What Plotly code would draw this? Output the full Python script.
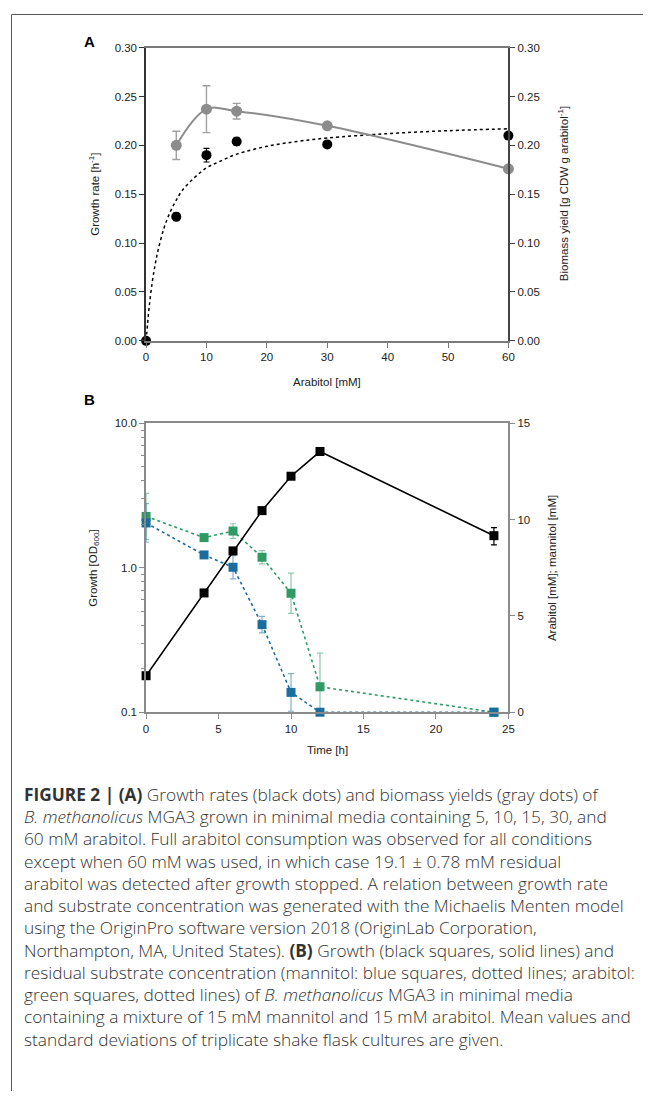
import plotly.graph_objects as go

# The page body has an 8px margin on every side, so the figure is drawn from (8, 8)
# and sized so that the whole page stays 657 x 1105.
OX, OY = 8, 8
W, H = 657 - 2 * OX, 1105 - 2 * OY

# ---------------- Panel A data ----------------
arab_conc = [0, 5, 10, 15, 30, 60]
growth_rate = [0.0, 0.127, 0.190, 0.204, 0.201, 0.210]
growth_rate_err = [0.0, 0.004, 0.007, 0.004, 0.0, 0.0]

yield_conc = [5, 10, 15, 30, 60]
biomass_yield = [0.200, 0.237, 0.235, 0.220, 0.176]
biomass_yield_err = [0.0145, 0.024, 0.008, 0.002, 0.0]

# Michaelis-Menten fit curve
mm_x = [0, 0.25, 0.5, 1, 1.5, 2, 3, 4, 5, 6, 8, 10, 12, 15, 20, 25, 30, 40, 50, 60]
mm_y = [0.0, 0.018, 0.034, 0.059, 0.078, 0.093, 0.116, 0.132, 0.144, 0.154, 0.167,
        0.177, 0.183, 0.191, 0.199, 0.204, 0.2075, 0.212, 0.215, 0.217]

# ---------------- Panel B data ----------------
time_h = [0, 4, 6, 8, 10, 12, 24]
od600 = [0.179, 0.670, 1.31, 2.49, 4.31, 6.39, 1.67]
od600_err = [0.0, 0.0, 0.0, 0.0, 0.0, 0.1, 0.23]
arabitol = [10.17, 9.07, 9.41, 8.05, 6.18, 1.32, 0.0]
arabitol_err = [1.2, 0.0, 0.38, 0.34, 1.05, 1.75, 0.0]
mannitol = [9.83, 8.17, 7.53, 4.55, 1.03, 0.0, 0.0]
mannitol_err = [1.0, 0.0, 0.6, 0.43, 0.98, 0.0, 0.0]

caption_lines = [
    "<b>FIGURE 2 | (A)</b> Growth rates (black dots) and biomass yields (gray dots) of",
    "<i>B. methanolicus</i> MGA3 grown in minimal media containing 5, 10, 15, 30, and",
    "60 mM arabitol. Full arabitol consumption was observed for all conditions",
    "except when 60 mM was used, in which case 19.1 ± 0.78 mM residual",
    "arabitol was detected after growth stopped. A relation between growth rate",
    "and substrate concentration was generated with the Michaelis Menten model",
    "using the OriginPro software version 2018 (OriginLab Corporation,",
    "Northampton, MA, United States). <b>(B)</b> Growth (black squares, solid lines) and",
    "residual substrate concentration (mannitol: blue squares, dotted lines; arabitol:",
    "green squares, dotted lines) of <i>B. methanolicus</i> MGA3 in minimal media",
    "containing a mixture of 15 mM mannitol and 15 mM arabitol. Mean values and",
    "standard deviations of triplicate shake flask cultures are given.",
]

FONT = "Liberation Sans, Arial, sans-serif"
CAPFONT = "Open Sans, Liberation Sans, sans-serif"
GREEN = "#2f9a64"
BLUE = "#1b6d9e"
GRAY = "#8c8c8c"


def px(x):
    return (x - OX) / W


def py(y):
    return 1 - (y - OY) / H


fig = go.Figure()

# Panel A traces
fig.add_trace(go.Scatter(x=mm_x, y=mm_y, mode="lines", line=dict(color="black", width=1.5, dash="dot", shape="spline"),
                         xaxis="x", yaxis="y", hoverinfo="skip", showlegend=False))
fig.add_trace(go.Scatter(x=arab_conc, y=growth_rate, mode="markers",
                         marker=dict(color="black", size=10),
                         error_y=dict(type="data", array=growth_rate_err, color="black", thickness=1.2, width=3),
                         xaxis="x", yaxis="y", cliponaxis=False, showlegend=False))
fig.add_trace(go.Scatter(x=yield_conc, y=biomass_yield, mode="lines+markers",
                         line=dict(color=GRAY, width=2, shape="spline"),
                         marker=dict(color=GRAY, size=11),
                         error_y=dict(type="data", array=biomass_yield_err, color="#a0a0a0", thickness=1.4, width=4),
                         xaxis="x", yaxis="y2", cliponaxis=False, showlegend=False))

# Panel B traces (colored on right linear axis y3, black growth on left log axis y4 drawn on top)
fig.add_trace(go.Scatter(x=time_h, y=arabitol, mode="lines+markers",
                         line=dict(color=GREEN, width=1.6, dash="dot"),
                         marker=dict(color=GREEN, size=9, symbol="square"),
                         error_y=dict(type="data", array=arabitol_err, color="rgba(47,154,100,0.55)", thickness=1.2, width=3),
                         xaxis="x2", yaxis="y3", cliponaxis=False, showlegend=False))
fig.add_trace(go.Scatter(x=time_h, y=mannitol, mode="lines+markers",
                         line=dict(color=BLUE, width=1.6, dash="dot"),
                         marker=dict(color=BLUE, size=9, symbol="square"),
                         error_y=dict(type="data", array=mannitol_err, color="rgba(27,109,158,0.55)", thickness=1.2, width=3),
                         xaxis="x2", yaxis="y3", cliponaxis=False, showlegend=False))
fig.add_trace(go.Scatter(x=time_h, y=od600, mode="lines+markers",
                         line=dict(color="black", width=1.6),
                         marker=dict(color="black", size=9, symbol="square"),
                         error_y=dict(type="data", array=od600_err, color="black", thickness=1.2, width=3),
                         xaxis="x2", yaxis="y4", cliponaxis=False, showlegend=False))

tickfont = dict(family=FONT, size=11.5, color="#222")

xA = [px(145), px(512.5)]
yA = [py(338.5), py(42)]
xB = [px(145), px(512.5)]
yB = [py(714), py(422)]

fig.update_layout(
    width=W, height=H,
    margin=dict(l=0, r=0, t=0, b=0),
    paper_bgcolor="white", plot_bgcolor="white",
    showlegend=False,
    xaxis=dict(domain=xA, anchor="y", range=[0, 60], tickvals=[0, 10, 20, 30, 40, 50, 60],
               showline=True, linecolor="#7a7a7a", linewidth=1.5, mirror=True,
               ticks="outside", ticklen=5, tickcolor="#7a7a7a", showgrid=False, zeroline=False,
               tickfont=tickfont),
    yaxis=dict(domain=yA, anchor="x", range=[0, 0.30], tickvals=[0, 0.05, 0.10, 0.15, 0.20, 0.25, 0.30],
               tickformat=".2f", showline=True, linecolor="#333", linewidth=1.5,
               ticks="outside", ticklen=5, tickcolor="#333", showgrid=False, zeroline=False,
               tickfont=tickfont),
    yaxis2=dict(domain=yA, anchor="x", overlaying="y", side="right", range=[0, 0.30],
                tickvals=[0, 0.05, 0.10, 0.15, 0.20, 0.25, 0.30], tickformat=".2f",
                showline=True, linecolor="#444", linewidth=1.5,
                ticks="outside", ticklen=5, tickcolor="#444", showgrid=False, zeroline=False,
                tickfont=tickfont),
    xaxis2=dict(domain=xB, anchor="y3", range=[0, 25], tickvals=[0, 5, 10, 15, 20, 25],
                showline=True, linecolor="#8a8a8a", linewidth=2, mirror=True,
                ticks="outside", ticklen=5, tickcolor="#8a8a8a", showgrid=False, zeroline=False,
                tickfont=tickfont),
    yaxis3=dict(domain=yB, anchor="x2", side="right", range=[0, 15], tickvals=[0, 5, 10, 15],
                showline=True, linecolor="#8a8a8a", linewidth=1.5,
                ticks="outside", ticklen=5, tickcolor="#8a8a8a", showgrid=False, zeroline=False,
                tickfont=tickfont),
    yaxis4=dict(domain=yB, anchor="x2", overlaying="y3", side="left", type="log", range=[-1, 1],
                tickvals=[0.1, 1, 10], ticktext=["0.1", "1.0", "10.0"],
                showline=True, linecolor="#8a8a8a", linewidth=1.5,
                ticks="outside", ticklen=5, tickcolor="#8a8a8a", showgrid=False, zeroline=False,
                minor=dict(ticks="outside", ticklen=3, tickcolor="#8a8a8a",
                           tickvals=[0.2, 0.3, 0.4, 0.5, 0.6, 0.7, 0.8, 0.9, 2, 3, 4, 5, 6, 7, 8, 9]),
                tickfont=tickfont),
)

annotations = []


def ann(x, y, text, size=12, angle=0, xanchor="center", yanchor="middle", color="#222", family=FONT, weight=None):
    f = dict(family=family, size=size, color=color)
    if weight is not None:
        f["weight"] = weight
    annotations.append(dict(x=px(x), y=py(y), xref="paper", yref="paper", text=text, showarrow=False,
                            textangle=angle, xanchor=xanchor, yanchor=yanchor, font=f))


ann(88, 36, "<b>A</b>", size=15, color="black")
ann(88, 398, "<b>B</b>", size=15, color="black")
ann(92, 190, "Growth rate [h<sup>-1</sup>]", size=11.5, angle=-90)
ann(568, 190, "Biomass yield [g CDW g arabitol<sup>-1</sup>]", size=11.5, angle=-90)
ann(329, 380, "Arabitol [mM]", size=11.5)
ann(92, 568, "Growth [OD<sub>600</sub>]", size=11.5, angle=-90)
ann(557, 568, "Arabitol [mM]; mannitol [mM]", size=11.5, angle=-90)
ann(329, 752, "Time [h]", size=11.5)

for i, line in enumerate(caption_lines):
    ann(19, 797 + 22.5 * i, line, size=17.3, xanchor="left", color="#333", family=CAPFONT, weight=300)

fig.update_layout(annotations=annotations)

# frame lines (top and left edges of figure box)
fig.add_shape(type="line", xref="paper", yref="paper", x0=px(8.5), x1=1, y0=py(8.5), y1=py(8.5),
              line=dict(color="#555", width=1))
fig.add_shape(type="line", xref="paper", yref="paper", x0=px(8.5), x1=px(8.5), y0=py(8.5), y1=0,
              line=dict(color="#555", width=1))

fig.write_html("out.html")
